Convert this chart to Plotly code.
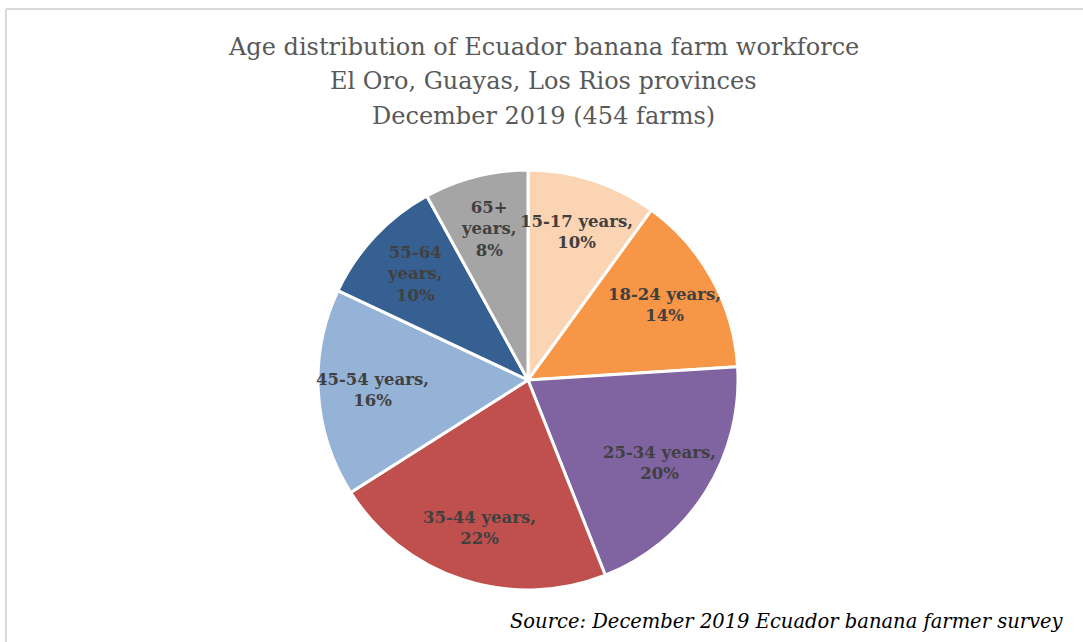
import math
import plotly.graph_objects as go

categories = ["15-17 years", "18-24 years", "25-34 years", "35-44 years", "45-54 years", "55-64 years", "65+ years"]
values = [10, 14, 20, 22, 16, 10, 8]
label_texts = ["15-17 years,<br>10%", "18-24 years,<br>14%", "25-34 years,<br>20%", "35-44 years,<br>22%",
               "45-54 years,<br>16%", "55-64<br>years,<br>10%", "65+<br>years,<br>8%"]
colors = ["#FBD4B4", "#F79646", "#8064A2", "#C0504D", "#95B3D7", "#366092", "#A5A5A5"]
title_lines = ["Age distribution of Ecuador banana farm workforce", "El Oro, Guayas, Los Rios provinces", "December 2019 (454 farms)"]
source_text = "Source: December 2019 Ecuador banana farmer survey"

W, H = 1083, 642
cx, cy, r = 528, 380, 210
label_frac = 0.74

x0, x1 = (cx - r) / W, (cx + r) / W
y0, y1 = (H - cy - r) / H, (H - cy + r) / H

fig = go.Figure(go.Pie(
    labels=categories, values=values, textinfo="none",
    sort=False, direction="clockwise", rotation=0,
    marker=dict(colors=colors, line=dict(color="white", width=3)),
    domain=dict(x=[x0, x1], y=[y0, y1]),
    showlegend=False, hoverinfo="label+percent",
))

# data labels placed at the middle angle of each slice
total = sum(values)
cum = 0
for v, t in zip(values, label_texts):
    mid = (cum + v / 2) / total * 2 * math.pi
    cum += v
    px = cx + label_frac * r * math.sin(mid)
    py = cy - label_frac * r * math.cos(mid)
    fig.add_annotation(text="<b>" + t + "</b>", x=px / W, y=1 - py / H, xref="paper", yref="paper",
                       showarrow=False, xanchor="center", yanchor="middle", align="center",
                       font=dict(family="DejaVu Serif", size=16.5, color="#404040"))

ys = [47, 81, 116]
for t, y in zip(title_lines, ys):
    fig.add_annotation(text=t, x=543 / W, y=1 - y / H, xref="paper", yref="paper",
                       showarrow=False, xanchor="center", yanchor="middle",
                       font=dict(family="DejaVu Serif", size=24, color="#595959"))

fig.add_annotation(text="<i>" + source_text + "</i>", x=1066 / W, y=1 - 621 / H, xref="paper", yref="paper",
                   showarrow=False, xanchor="right", yanchor="middle",
                   font=dict(family="DejaVu Serif", size=19.5, color="#000000"))

fig.add_shape(type="line", xref="paper", yref="paper", x0=6 / W, x1=1.01, y0=1 - 9 / H, y1=1 - 9 / H,
              line=dict(color="#D9D9D9", width=2))
fig.add_shape(type="line", xref="paper", yref="paper", x0=6 / W, x1=6 / W, y0=1 - 9 / H, y1=-0.01,
              line=dict(color="#D9D9D9", width=2))

fig.update_layout(width=W, height=H, margin=dict(l=0, r=0, t=0, b=0),
                  paper_bgcolor="white", plot_bgcolor="white")
fig.write_html("out.html", config={"displayModeBar": False},
               post_script="document.body.style.margin='0px';")
